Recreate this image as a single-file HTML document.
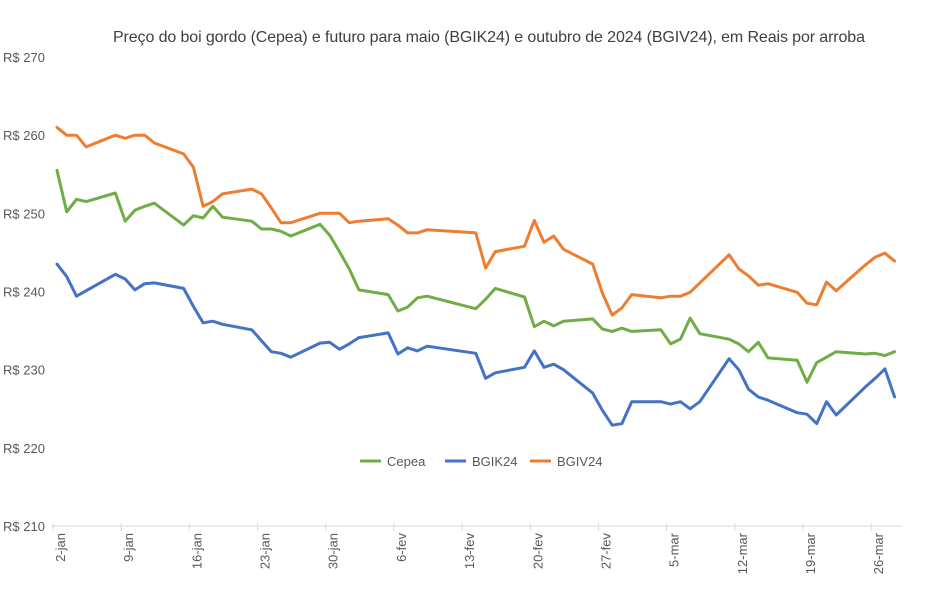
<!DOCTYPE html>
<html><head><meta charset="utf-8"><style>
body{margin:0;background:#fff;}
svg text{font-family:"Liberation Sans",sans-serif;fill:#595959;}
</style></head><body>
<svg id="chart" width="948" height="589" viewBox="0 0 948 589">
<text x="489" y="42" text-anchor="middle" font-size="16" textLength="752" style="fill:#404040">Preço do boi gordo (Cepea) e futuro para maio (BGIK24) e outubro de 2024 (BGIV24), em Reais por arroba</text>
<g id="yaxis"></g>
<g id="xaxis"></g>
<g id="series"></g>
<g id="legend"></g>
</svg>
<script>
const days=[0,1,2,3,6,7,8,9,10,13,14,15,16,17,20,21,22,23,24,27,28,29,30,31,34,35,36,37,38,43,44,45,48,49,50,51,52,55,56,57,58,59,62,63,64,65,66,69,70,71,72,73,76,77,78,79,80,83,84,85,86];
const cepea=[255.5,250.2,251.8,251.5,252.6,249.0,250.4,250.9,251.3,248.5,249.7,249.4,250.9,249.5,249.0,248.0,248.0,247.7,247.1,248.6,247.2,245.1,242.9,240.2,239.6,237.5,238.0,239.2,239.4,237.8,239.0,240.4,239.3,235.5,236.2,235.6,236.2,236.5,235.2,234.9,235.3,234.9,235.1,233.3,233.9,236.6,234.6,233.9,233.3,232.3,233.5,231.5,231.2,228.4,230.9,231.6,232.3,232.0,232.1,231.8,232.3];
const bgik=[243.5,241.9,239.4,240.1,242.2,241.6,240.2,241.0,241.1,240.4,238.1,236.0,236.2,235.8,235.1,233.7,232.3,232.1,231.6,233.4,233.5,232.6,233.3,234.1,234.7,232.0,232.8,232.4,233.0,232.1,228.9,229.6,230.3,232.4,230.3,230.7,230.0,227.0,224.8,222.9,223.1,225.9,225.9,225.6,225.9,225.0,225.9,231.4,230.0,227.5,226.5,226.1,224.5,224.3,223.1,225.9,224.2,227.8,228.9,230.1,226.5];
const bgiv=[261.0,260.0,260.0,258.5,260.0,259.6,260.0,260.0,259.0,257.6,255.9,250.9,251.5,252.5,253.1,252.5,250.7,248.8,248.8,250.0,250.0,250.0,248.8,249.0,249.3,248.5,247.5,247.5,247.9,247.5,243.0,245.1,245.8,249.1,246.3,247.1,245.4,243.5,239.8,237.0,237.9,239.6,239.2,239.4,239.4,239.9,241.1,244.7,242.9,242.0,240.8,241.0,239.9,238.5,238.3,241.2,240.1,243.4,244.4,244.9,243.9];
const yTicks=[210,220,230,240,250,260,270];
const xTickDays=[0,7,14,21,28,35,42,49,56,63,70,77,84];
const xTickLabels=["2-jan","9-jan","16-jan","23-jan","30-jan","6-fev","13-fev","20-fev","27-fev","5-mar","12-mar","19-mar","26-mar"];
const seriesNames=["Cepea","BGIK24","BGIV24"];
const seriesColors=["#70AD47","#4472C4","#ED7D31"];
const NS="http://www.w3.org/2000/svg";
const X=d=>57+d*9.74;
const Y=v=>526-(v-210)*(469/60);
function mk(t,a,p){const e=document.createElementNS(NS,t);for(const k in a)e.setAttribute(k,a[k]);p.appendChild(e);return e;}
const ya=document.getElementById('yaxis');
yTicks.forEach(v=>{const t=mk('text',{x:3,y:Y(v)+5,'font-size':13},ya);t.textContent='R$ '+v;

});
const xa=document.getElementById('xaxis');
const al=mk('line',{x1:52,y1:526,x2:902,y2:526,stroke:'#d9d9d9','stroke-width':1},xa);


xTickDays.forEach((d,i)=>{const x=X(d)-4;
const tk=mk('line',{x1:x,y1:523,x2:x,y2:531,stroke:'#d9d9d9'},xa);


const t=mk('text',{x:0,y:0,'font-size':13,'text-anchor':'end',transform:`translate(${x+12},533) rotate(-90)`},xa);t.textContent=xTickLabels[i];

});
const sg=document.getElementById('series');
[cepea,bgik,bgiv].forEach((arr,si)=>{
const pts=arr.map((v,i)=>X(days[i]).toFixed(1)+','+Y(v).toFixed(1)).join(' ');
const pl=mk('polyline',{points:pts,fill:'none',stroke:seriesColors[si],'stroke-width':3,'stroke-linejoin':'round','stroke-linecap':'round'},sg);

});
const lg=document.getElementById('legend');
[360,445,530].forEach((lx,i)=>{
const l=mk('line',{x1:lx,y1:461,x2:lx+21,y2:461,stroke:seriesColors[i],'stroke-width':3},lg);


const t=mk('text',{x:lx+27,y:466,'font-size':13},lg);t.textContent=seriesNames[i];

});
</script>
</body></html>
